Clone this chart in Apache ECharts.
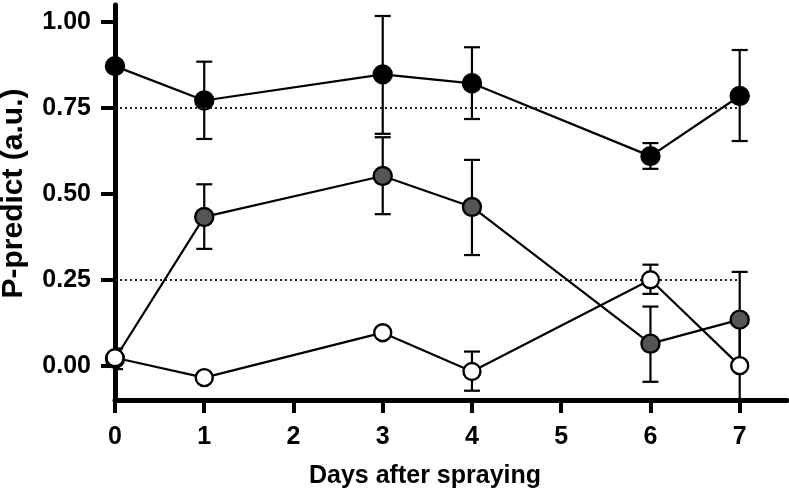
<!DOCTYPE html>
<html>
<head>
<meta charset="utf-8">
<script src="https://cdn.jsdelivr.net/npm/echarts@6/dist/echarts.min.js"></script>
<style>html,body{margin:0;padding:0;background:#fff;}#c{width:789px;height:501px;}</style>
</head>
<body>
<div id="c"></div>
<script>
const days = [0, 1, 3, 4, 6, 7];
const xTicks = [0, 1, 2, 3, 4, 5, 6, 7];
const yTicks = [0, 0.25, 0.5, 0.75, 1.0];
const refLevels = [0.75, 0.25];

const blackVals = [0.872, 0.772, 0.848, 0.822, 0.610, 0.785];
const blackLow  = [null, 0.660, 0.675, 0.718, 0.573, 0.654];
const blackHigh = [null, 0.885, 1.018, 0.927, 0.648, 0.919];

const grayVals = [0.020, 0.433, 0.552, 0.462, 0.064, 0.134];
const grayLow  = [null, 0.340, 0.441, 0.322, -0.047, -0.005];
const grayHigh = [null, 0.528, 0.665, 0.599, 0.172, 0.273];

const whiteVals = [0.023, -0.035, 0.096, -0.017, 0.250, 0.000];
const whiteLow  = [-0.010, null, null, -0.073, 0.209, -0.140];
const whiteHigh = [0.050, null, null, 0.041, 0.294, 0.140];

function pts(vals){ return days.map((d,i)=>[d, vals[i]]); }
function errs(lo, hi){
  const out = [];
  days.forEach((d,i)=>{ if(lo[i]!==null) out.push([d, lo[i], hi[i]]); });
  return out;
}
function errSeries(data){
  return {
    type: 'custom', data: data, clip: true, z: 1, silent: true,
    renderItem: function(params, api){
      const x = api.value(0);
      const lo = api.coord([x, api.value(1)]);
      const hi = api.coord([x, api.value(2)]);
      const hw = 8;
      const st = {stroke:'#000', lineWidth:2.2};
      return {type:'group', children:[
        {type:'line', shape:{x1:lo[0], y1:lo[1], x2:hi[0], y2:hi[1]}, style:st},
        {type:'line', shape:{x1:lo[0]-hw, y1:lo[1], x2:lo[0]+hw, y2:lo[1]}, style:st},
        {type:'line', shape:{x1:hi[0]-hw, y1:hi[1], x2:hi[0]+hw, y2:hi[1]}, style:st}
      ]};
    }
  };
}
function lineSeries(vals, fill, size, z){
  return {
    type:'line', data: pts(vals), symbol:'circle', symbolSize:size, z:z,
    lineStyle:{color:'#000', width:2.2},
    itemStyle:{color:fill, borderColor:'#000', borderWidth:2.4, opacity:1},
    emphasis:{disabled:true}, animation:false
  };
}
const chart = echarts.init(document.getElementById('c'), null, {renderer:'canvas'});
const font = 'Liberation Sans, Arial, Helvetica, sans-serif';
chart.setOption({
  animation:false,
  grid:{left:115, right:2, top:5, bottom:101, containLabel:false, outerBoundsMode:'none'},
  xAxis:{
    type:'value', min:0, max:7.53,
    name:'Days after spraying', nameLocation:'middle', nameGap:64,
    nameTextStyle:{fontFamily:font, fontWeight:'bold', fontSize:25, color:'#000', padding:[0,52,0,0]},
    axisLine:{show:true, onZero:false, lineStyle:{color:'#000', width:5}},
    axisTick:{show:true, length:13, lineStyle:{color:'#000', width:4}, customValues:xTicks},
    axisLabel:{customValues:xTicks, margin:25, fontFamily:font, fontWeight:'bold', fontSize:25, color:'#000'},
    splitLine:{show:false}
  },
  yAxis:{
    type:'value', min:-0.1, max:1.05,
    name:'P-predict (a.u.)', nameLocation:'middle', nameGap:86, nameRotate:90,
    nameTextStyle:{fontFamily:font, fontWeight:'bold', fontSize:30, color:'#000', padding:[0,0,0,18]},
    axisLine:{show:true, onZero:false, lineStyle:{color:'#000', width:5}},
    axisTick:{show:true, length:14, lineStyle:{color:'#000', width:4}, customValues:yTicks},
    axisLabel:{customValues:yTicks, margin:24, fontFamily:font, fontWeight:'bold', fontSize:25, color:'#000',
      formatter:v=>Number(v).toFixed(2)},
    splitLine:{show:false}
  },
  series:[
    {
      type:'line', data:[], silent:true,
      markLine:{symbol:'none', silent:true, label:{show:false},
        lineStyle:{color:'#222', width:2, type:[2,3]},
        data: refLevels.map(v=>[{coord:[xTicks[0], v]},{coord:[xTicks[xTicks.length-1], v]}])}
    },
    errSeries(errs(blackLow, blackHigh)),
    errSeries(errs(grayLow, grayHigh)),
    errSeries(errs(whiteLow, whiteHigh)),
    lineSeries(blackVals, '#000', 18, 3),
    lineSeries(grayVals, '#555', 18, 4),
    lineSeries(whiteVals, '#fff', 17, 5)
  ]
});
</script>
</body>
</html>
